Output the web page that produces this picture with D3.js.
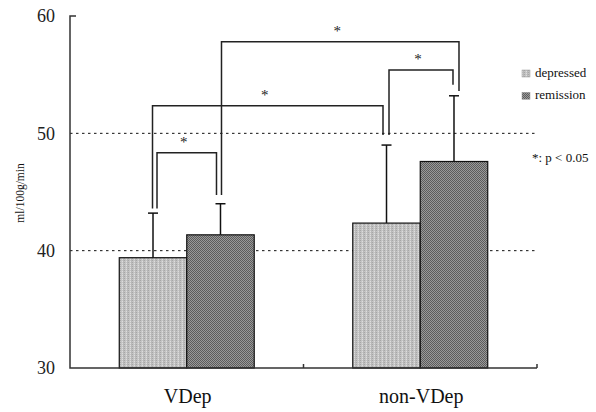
<!DOCTYPE html>
<html>
<head>
<meta charset="utf-8">
<script src="https://cdn.jsdelivr.net/npm/d3@7/dist/d3.min.js"></script>
<style>
  html, body { margin: 0; padding: 0; background: #fff; }
  svg { display: block; }
  text { font-family: "Liberation Serif", "Times New Roman", serif; }
</style>
</head>
<body>
<div id="chart"></div>
<script>
// ---- data ----
const categories = ["VDep", "non-VDep"];
const seriesNames = ["depressed", "remission"];
const depressedMean = [39.4, 42.35];
const remissionMean = [41.35, 47.6];
const depressedSD = [3.8, 6.65];
const remissionSD = [2.65, 5.6];
const yTicks = [30, 40, 50, 60];
const gridValues = [40, 50];
// significance brackets: [category, series] endpoints, bracket level, leg ends (data units)
const brackets = [
  { a: [0, 0], b: [0, 1], level: 48.35, endA: 43.6, endB: 44.75, label: "*" },
  { a: [0, 0], b: [1, 0], level: 52.35, endA: 43.6, endB: 49.85, label: "*" },
  { a: [0, 1], b: [1, 1], level: 57.8, endA: 44.75, endB: 53.6, label: "*" },
  { a: [1, 0], b: [1, 1], level: 55.4, endA: 49.85, endB: 54.15, label: "*" }
];
const legendNote = "*: p < 0.05";
const yTitle = "ml/100g/min";

// ---- layout ----
const W = 596, H = 412;
const legDx = [[4, -4], [-0.5, -3.5], [1, 5], [2.5, -1]];

const svg = d3.select("#chart").append("svg").attr("width", W).attr("height", H);
const defs = svg.append("defs");

// patterns
const p1 = defs.append("pattern").attr("id", "patDep").attr("patternUnits", "userSpaceOnUse")
  .attr("width", 4).attr("height", 2);
p1.append("rect").attr("width", 4).attr("height", 2).attr("fill", "#c4c4c4");
p1.append("rect").attr("x", 0).attr("y", 0).attr("width", 1).attr("height", 1).attr("fill", "#a6a6a6");
p1.append("rect").attr("x", 2).attr("y", 1).attr("width", 1).attr("height", 1).attr("fill", "#dedede");
p1.append("rect").attr("x", 3).attr("y", 0).attr("width", 1).attr("height", 2).attr("fill", "#b8b8b8");

const p2 = defs.append("pattern").attr("id", "patRem").attr("patternUnits", "userSpaceOnUse")
  .attr("width", 2).attr("height", 2);
p2.append("rect").attr("width", 2).attr("height", 2).attr("fill", "#999");
p2.append("rect").attr("x", 0).attr("y", 0).attr("width", 1).attr("height", 1).attr("fill", "#5c5c5c");
p2.append("rect").attr("x", 1).attr("y", 1).attr("width", 1).attr("height", 1).attr("fill", "#5c5c5c");

const fills = ["url(#patDep)", "url(#patRem)"];

const x0 = d3.scaleBand().domain(categories).range([70, 537]).paddingInner(0).paddingOuter(0);
const x1 = d3.scaleBand().domain(seriesNames).range([0, x0.bandwidth()]).paddingInner(0).paddingOuter(0.73);
const y = d3.scaleLinear().domain([30, 60]).range([368, 16]);

const means = [depressedMean, remissionMean];
const sds = [depressedSD, remissionSD];
const cx = (c, s) => x0(categories[c]) + x1(seriesNames[s]) + x1.bandwidth() / 2;

// gridlines
svg.append("g").selectAll("line").data(gridValues).join("line")
  .attr("x1", 70).attr("x2", 537)
  .attr("y1", d => y(d)).attr("y2", d => y(d))
  .attr("stroke", "#111").attr("stroke-width", 1).attr("stroke-dasharray", "2.5,3.5");

// bars
const barData = [];
categories.forEach((c, ci) => seriesNames.forEach((s, si) => barData.push({ ci, si, v: means[si][ci], sd: sds[si][ci] })));

svg.append("g").selectAll("rect").data(barData).join("rect")
  .attr("x", d => x0(categories[d.ci]) + x1(seriesNames[d.si]))
  .attr("y", d => y(d.v))
  .attr("width", x1.bandwidth())
  .attr("height", d => y(30) - y(d.v))
  .attr("fill", d => fills[d.si])
  .attr("stroke", "#111").attr("stroke-width", 1.2);

// error bars
const eb = svg.append("g").attr("stroke", "#111").attr("stroke-width", 1.5);
eb.selectAll("line.v").data(barData).join("line").attr("class", "v")
  .attr("x1", d => cx(d.ci, d.si)).attr("x2", d => cx(d.ci, d.si))
  .attr("y1", d => y(d.v)).attr("y2", d => y(d.v + d.sd));
eb.selectAll("line.c").data(barData).join("line").attr("class", "c")
  .attr("x1", d => cx(d.ci, d.si) - 5).attr("x2", d => cx(d.ci, d.si) + 5)
  .attr("y1", d => y(d.v + d.sd)).attr("y2", d => y(d.v + d.sd));

// brackets
const bg = svg.append("g");
brackets.forEach((b, i) => {
  const xa = cx(b.a[0], b.a[1]) + legDx[i][0];
  const xb = cx(b.b[0], b.b[1]) + legDx[i][1];
  bg.append("path")
    .attr("d", `M${xa},${y(b.endA)}V${y(b.level)}H${xb}V${y(b.endB)}`)
    .attr("fill", "none").attr("stroke", "#222").attr("stroke-width", 1.5);
  bg.append("text").attr("x", (xa + xb) / 2 - 3).attr("y", y(b.level) - 5.5)
    .attr("text-anchor", "middle").attr("font-size", 15).attr("fill", "#222").text(b.label);
});

// axes
const ax = svg.append("g").attr("stroke", "#333").attr("stroke-width", 1.5).attr("fill", "none");
ax.append("path").attr("d", `M76,${y(60)}H70V${y(30)}H537`);
ax.selectAll("line.xt").data(categories).join("line").attr("class", "xt")
  .attr("x1", d => x0(d) + x0.bandwidth()).attr("x2", d => x0(d) + x0.bandwidth())
  .attr("y1", y(30)).attr("y2", y(30) - 4);

svg.append("g").selectAll("text").data(yTicks).join("text")
  .attr("x", 55).attr("y", d => y(d)).attr("dy", "0.35em")
  .attr("text-anchor", "end").attr("font-size", 18).attr("fill", "#222")
  .text(d => d);

svg.append("g").selectAll("text").data(categories).join("text")
  .attr("x", d => x0(d) + x0.bandwidth() / 2 + 1).attr("y", 403)
  .attr("text-anchor", "middle").attr("font-size", 20).attr("fill", "#111")
  .text(d => d);

svg.append("text").attr("transform", `translate(24,193) rotate(-90)`)
  .attr("text-anchor", "middle").attr("font-size", 11.5).attr("fill", "#111").text(yTitle);

// legend
const lg = svg.append("g");
seriesNames.forEach((s, i) => {
  lg.append("rect").attr("x", 522).attr("y", 70 + i * 22.3).attr("width", 8).attr("height", 7)
    .attr("fill", fills[i]).attr("stroke", "#999").attr("stroke-width", 0.5);
  lg.append("text").attr("x", 535).attr("y", 77 + i * 22.3).attr("font-size", 13).attr("fill", "#111").text(s);
});
lg.append("text").attr("x", 532).attr("y", 162).attr("font-size", 13).attr("fill", "#111").text(legendNote);
</script>
</body>
</html>
